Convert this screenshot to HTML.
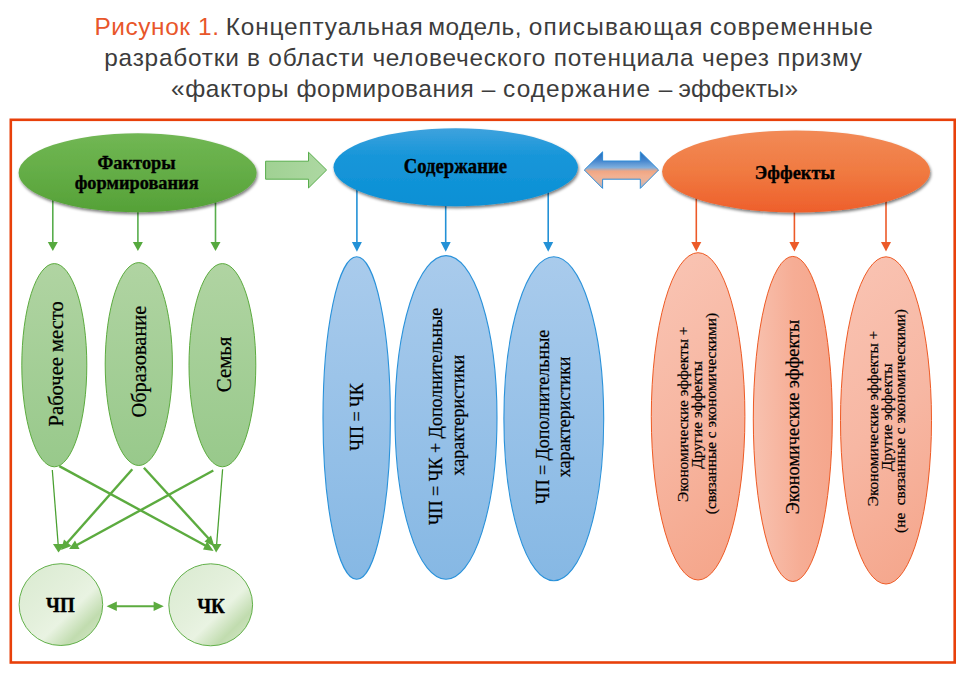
<!DOCTYPE html>
<html lang="ru">
<head>
<meta charset="utf-8">
<title>Рисунок 1</title>
<style>
  html, body { margin: 0; padding: 0; background: #ffffff; }
  body { width: 972px; height: 676px; position: relative; overflow: hidden;
         font-family: "Liberation Sans", sans-serif; }
  .title { position: absolute; left: 0; top: 0; width: 972px; text-align: center;
           color: #3c3c3c; font-size: 24.4px; white-space: nowrap; }
  .title div { position: absolute; left: 0; width: 967px; text-align: center; height: 30px; line-height: 30px; }
  .title .l1 { top: 11.8px; left: 0.6px; letter-spacing: 0.71px; }
  .title .l2 { top: 42.6px; left: 0px; letter-spacing: 0.76px; }
  .title .l3 { top: 73.6px; left: 1px; letter-spacing: 0.55px; }
  .title .num { color: #e8562a; letter-spacing: 0.6px; margin-right: -1.3px; }
  .title .rest { letter-spacing: 0.765px; }
  svg { position: absolute; left: 0; top: 0; }
  .hb { font-family: "Liberation Serif", serif; font-weight: bold; font-size: 18.35px; fill: #000; stroke: #000; stroke-width: 0.35px; text-anchor: middle; }
  .vt { font-family: "Liberation Serif", serif; fill: #000; stroke: #000; stroke-width: 0.22px; text-anchor: middle; }
</style>
</head>
<body>
<div class="title">
  <div class="l1"><span class="num">Рисунок 1.</span><span class="rest"> <span style="letter-spacing:0.85px">Концептуальная</span> <span style="letter-spacing:0.465px;margin-left:-2.9px">модель,</span> <span style="letter-spacing:1.225px;margin-left:-0.8px">описывающая</span> <span style="letter-spacing:0.865px;margin-left:-1.46px">современные</span></span></div>
  <div class="l2">разработки в области человеческого потенциала через призму</div>
  <div class="l3">«факторы формирования – <span style="letter-spacing:1.05px">содержание</span> <span style="margin-left:0.35px">–</span> <span style="letter-spacing:0px;margin-left:-1.55px">эффекты»</span></div>
</div>

<svg width="972" height="676" viewBox="0 0 972 676">
  <defs>
    <linearGradient id="gGreenTop" x1="0" y1="0" x2="0" y2="1">
      <stop offset="0" stop-color="#71b754"/><stop offset="0.5" stop-color="#64ad46"/><stop offset="1" stop-color="#55a137"/>
    </linearGradient>
    <linearGradient id="gBlueTop" x1="0" y1="0" x2="0" y2="1">
      <stop offset="0" stop-color="#3ea2dd"/><stop offset="0.35" stop-color="#1896d9"/><stop offset="1" stop-color="#0a90d5"/>
    </linearGradient>
    <linearGradient id="gOrangeTop" x1="0" y1="0" x2="0" y2="1">
      <stop offset="0" stop-color="#f28a57"/><stop offset="0.5" stop-color="#f07a41"/><stop offset="1" stop-color="#ee5f2b"/>
    </linearGradient>
    <linearGradient id="gGreenTall" x1="0" y1="0" x2="0" y2="1">
      <stop offset="0" stop-color="#b0d4a2"/><stop offset="1" stop-color="#98c98b"/>
    </linearGradient>
    <linearGradient id="gBlueTall" x1="0" y1="0" x2="0" y2="1">
      <stop offset="0" stop-color="#a9cbec"/><stop offset="1" stop-color="#86b8e4"/>
    </linearGradient>
    <linearGradient id="gOrange1" x1="0.38" y1="0" x2="0.62" y2="1">
      <stop offset="0" stop-color="#f9c3b2"/><stop offset="0.5" stop-color="#f7b6a1"/><stop offset="1" stop-color="#f5a68b"/>
    </linearGradient>
    <linearGradient id="gOrange2" x1="0" y1="0.55" x2="1" y2="0.45">
      <stop offset="0" stop-color="#f8c2b0"/><stop offset="0.55" stop-color="#f6ad95"/><stop offset="1" stop-color="#f5a68c"/>
    </linearGradient>
    <linearGradient id="gOrange3" x1="0.38" y1="0" x2="0.62" y2="1">
      <stop offset="0" stop-color="#f9c2b1"/><stop offset="0.5" stop-color="#f7b7a3"/><stop offset="1" stop-color="#f5a78d"/>
    </linearGradient>
    <linearGradient id="gCircle" x1="0" y1="0" x2="1" y2="1">
      <stop offset="0" stop-color="#d9ead0"/><stop offset="0.45" stop-color="#e4f0dc"/><stop offset="0.6" stop-color="#e9f3e2"/>
      <stop offset="0.78" stop-color="#c1dcaf"/><stop offset="0.9" stop-color="#cfe3c1"/><stop offset="1" stop-color="#deecd5"/>
    </linearGradient>
    <linearGradient id="gDbl" x1="0" y1="0" x2="0" y2="1">
      <stop offset="0" stop-color="#1e6cbd"/><stop offset="0.25" stop-color="#4888cf"/><stop offset="0.43" stop-color="#7eaedd"/><stop offset="0.53" stop-color="#f0a684"/><stop offset="0.66" stop-color="#f3b090"/><stop offset="0.8" stop-color="#e6b49e"/><stop offset="1" stop-color="#a3b5cd"/>
    </linearGradient>
    <linearGradient id="gArrowG" x1="0" y1="0" x2="1" y2="0">
      <stop offset="0" stop-color="#a0d193"/><stop offset="1" stop-color="#add8a2"/>
    </linearGradient>
    <filter id="sh" x="-10%" y="-20%" width="120%" height="150%">
      <feGaussianBlur in="SourceAlpha" stdDeviation="1.5"/>
      <feOffset dx="0.8" dy="2.4" result="o"/>
      <feComponentTransfer><feFuncA type="linear" slope="0.52"/></feComponentTransfer>
      <feMerge><feMergeNode/><feMergeNode in="SourceGraphic"/></feMerge>
    </filter>
  </defs>

  <!-- frame -->
  <rect x="10.8" y="119.8" width="943.9" height="542.7" fill="none" stroke="#e8400a" stroke-width="2.6"/>

  <!-- connector lines from top ellipses -->
  <g stroke="#58ad4c" stroke-width="1.6" fill="#56a93e">
    <line x1="52.8" y1="200" x2="52.8" y2="243"/><path d="M47.8 242 L57.8 242 L52.8 251 Z" stroke="none"/>
    <line x1="137.9" y1="205" x2="137.9" y2="243"/><path d="M132.9 242 L142.9 242 L137.9 251 Z" stroke="none"/>
    <line x1="215.5" y1="200" x2="215.5" y2="243"/><path d="M210.5 242 L220.5 242 L215.5 251 Z" stroke="none"/>
  </g>
  <g stroke="#2391d6" stroke-width="1.6" fill="#2391d6">
    <line x1="356.9" y1="190" x2="356.9" y2="243"/><path d="M351.9 242 L361.9 242 L356.9 251.8 Z" stroke="none"/>
    <line x1="445.7" y1="200" x2="445.7" y2="243"/><path d="M440.7 242 L450.7 242 L445.7 251.8 Z" stroke="none"/>
    <line x1="548.2" y1="190" x2="548.2" y2="243"/><path d="M543.2 242 L553.2 242 L548.2 251.8 Z" stroke="none"/>
  </g>
  <g stroke="#ec5a28" stroke-width="1.6" fill="#ec5a28">
    <line x1="696.3" y1="195" x2="696.3" y2="243"/><path d="M691.3 242 L701.3 242 L696.3 251.5 Z" stroke="none"/>
    <line x1="794.4" y1="205" x2="794.4" y2="243"/><path d="M789.4 242 L799.4 242 L794.4 251.5 Z" stroke="none"/>
    <line x1="886" y1="195" x2="886" y2="243"/><path d="M881 242 L891 242 L886 251.5 Z" stroke="none"/>
  </g>

  <!-- top ellipses -->
  <ellipse cx="137.6" cy="172.8" rx="119" ry="39.5" fill="url(#gGreenTop)" filter="url(#sh)"/>
  <ellipse cx="455.7" cy="167.3" rx="122.2" ry="39" fill="url(#gBlueTop)" filter="url(#sh)"/>
  <ellipse cx="796.1" cy="171.5" rx="134" ry="41" fill="url(#gOrangeTop)" filter="url(#sh)"/>
  <text class="hb" transform="translate(136.6 169.3) scale(1 1.07)">Факторы</text>
  <text class="hb" transform="translate(136.6 189.3) scale(1 1.07)">формирования</text>
  <text class="hb" style="font-size:18.7px" transform="translate(455.4 173.3) scale(1 1.07)">Содержание</text>
  <text class="hb" transform="translate(794.8 178.6) scale(1 1.07)">Эффекты</text>

  <!-- green block arrow -->
  <path d="M265.6 161.2 L308.5 161.2 L308.5 152.2 L326.6 170 L308.5 188 L308.5 179.2 L265.6 179.2 Z" fill="url(#gArrowG)" stroke="#58ad4c" stroke-width="1"/>
  <!-- double arrow -->
  <path d="M584.3 170 L602.6 151.8 L602.6 161 L640.3 161 L640.3 151.8 L658.6 170 L640.3 188.4 L640.3 179.2 L602.6 179.2 L602.6 188.4 Z" fill="url(#gDbl)" stroke="#2f8cd6" stroke-width="1"/>

  <!-- green tall ellipses -->
  <g fill="url(#gGreenTall)" stroke="#5cab3f" stroke-width="1">
    <ellipse cx="54.3" cy="365.2" rx="32.5" ry="101.6"/>
    <ellipse cx="138.8" cy="364.05" rx="33.6" ry="101.45"/>
    <ellipse cx="222.4" cy="365.2" rx="33.4" ry="101.6"/>
  </g>
  <g class="vt" font-size="20.3">
    <text style="font-size:20.55px" transform="translate(63 363.8) rotate(-90)">Рабочее место</text>
    <text style="font-size:20.4px" transform="translate(146 361.6) rotate(-90)">Образование</text>
    <text style="font-size:20.8px" transform="translate(230.6 364.4) rotate(-90)">Семья</text>
  </g>

  <!-- crossing arrows -->
  <g stroke="#5cab3f" fill="#5cab3f">
    <line x1="52.3" y1="470" x2="58.2" y2="545" stroke-width="1.25" stroke="#48a02f"/>
    <path d="M53 544 L65 544 L58.5 552.4 Z" stroke="none"/>
    <line x1="222.6" y1="469.3" x2="216.6" y2="545" stroke-width="1.25" stroke="#48a02f"/>
    <path d="M211.5 544 L221.5 544 L216.1 552.4 Z" stroke="none"/>
    <g stroke-width="2.4">
      <line x1="59.3" y1="466.1" x2="208" y2="547"/>
      <line x1="132.3" y1="469.3" x2="67" y2="543"/>
      <line x1="143.9" y1="467.7" x2="210" y2="540"/>
      <line x1="213.3" y1="470.5" x2="76" y2="545.5"/>
    </g>
    <path d="M213.6 551 L203 549.5 L207 541.5 Z" stroke="none"/>
    <path d="M214.5 546.5 L204.5 541.5 L211 535.5 Z" stroke="none"/>
    <path d="M61 550 L64 539.5 L71.5 546 Z" stroke="none"/>
    <path d="M69.1 549.1 L75 540.5 L79.5 549 Z" stroke="none"/>
  </g>

  <!-- circles -->
  <ellipse cx="60.9" cy="604.6" rx="41.8" ry="40.9" fill="url(#gCircle)" stroke="#62b04a" stroke-width="1"/>
  <ellipse cx="210.7" cy="604.8" rx="41.9" ry="41" fill="url(#gCircle)" stroke="#62b04a" stroke-width="1"/>
  <text class="hb" style="font-size:19px" transform="translate(60.4 612) scale(1 1.12)">ЧП</text>
  <text class="hb" style="font-size:19px" transform="translate(211 613) scale(1 1.12)">ЧК</text>
  <g stroke="#5cab3f" fill="#5cab3f">
    <line x1="114" y1="606.2" x2="157" y2="606.2" stroke-width="1.9"/>
    <path d="M106.6 606.2 L116.8 601.4 L116.8 611 Z" stroke="none"/>
    <path d="M163.8 606.2 L153.6 601.4 L153.6 611 Z" stroke="none"/>
  </g>

  <!-- blue tall ellipses -->
  <g fill="url(#gBlueTall)" stroke="#2a92da" stroke-width="1.1">
    <ellipse cx="356.7" cy="418.05" rx="33.7" ry="161.25"/>
    <ellipse cx="446" cy="417.45" rx="51" ry="161.85"/>
    <ellipse cx="553.8" cy="418.8" rx="49.9" ry="162"/>
  </g>
  <g class="vt" font-size="18">
    <text transform="translate(363 417) rotate(-90)">ЧП = ЧК</text>
    <text transform="translate(442.3 416.4) rotate(-90)">ЧП = ЧК + Дополнительные</text>
    <text transform="translate(463.5 415.2) rotate(-90)">характеристики</text>
    <text transform="translate(549 417) rotate(-90)">ЧП = Дополнительные</text>
    <text transform="translate(569.7 417) rotate(-90)">характеристики</text>
  </g>

  <!-- orange tall ellipses -->
  <g stroke="#ee5a24" stroke-width="1">
    <ellipse cx="698.1" cy="416.35" rx="46.8" ry="163.65" fill="url(#gOrange1)"/>
    <ellipse cx="792.8" cy="418.95" rx="39.5" ry="162.55" fill="url(#gOrange2)"/>
    <ellipse cx="886" cy="420.4" rx="45.5" ry="163.6" fill="url(#gOrange3)"/>
  </g>
  <g class="vt" font-size="15.3">
    <text transform="translate(687.5 414.3) rotate(-90)">Экономические эффекты +</text>
    <text transform="translate(702 414.8) rotate(-90)">Другие эффекты</text>
    <text transform="translate(716 413.6) rotate(-90)">(связанные с экономическими)</text>
    <text transform="translate(877.6 418.5) rotate(-90)">Экономические эффекты +</text>
    <text transform="translate(891.9 417.3) rotate(-90)">Другие эффекты</text>
    <text transform="translate(904.8 421) rotate(-90)" xml:space="preserve">(не  связанные с экономическими)</text>
  </g>
  <text class="vt" font-size="18.3" transform="translate(799.2 417) rotate(-90)">Экономические эффекты</text>
</svg>
</body>
</html>
